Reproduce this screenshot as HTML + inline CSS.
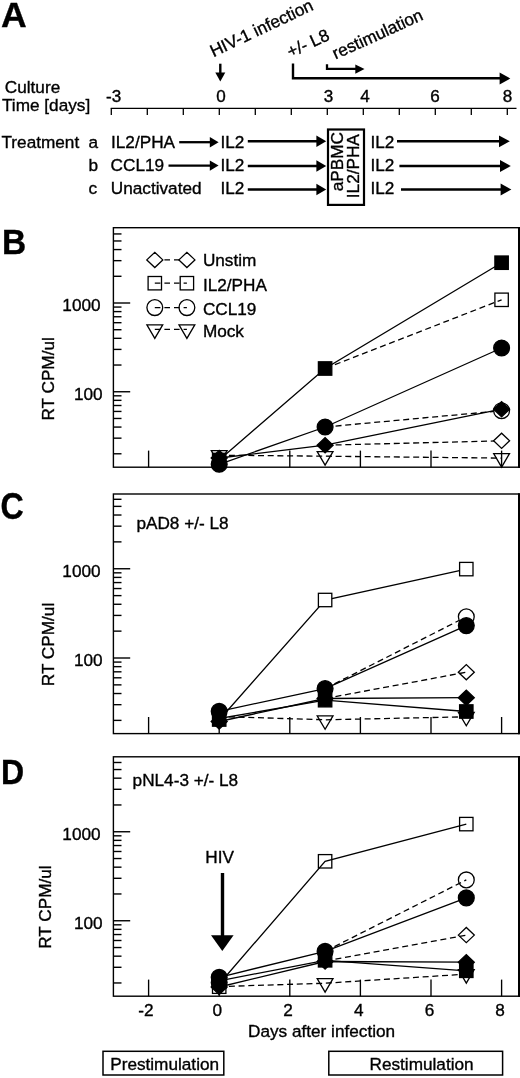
<!DOCTYPE html>
<html lang="en"><head><meta charset="utf-8"><title>Figure</title>
<style>html,body{margin:0;padding:0;background:#fff}svg{display:block}svg text{stroke:#000;stroke-width:0.35px;font-family:"Liberation Sans",Arial,Helvetica,sans-serif}</style></head>
<body>
<svg width="520" height="1078" viewBox="0 0 520 1078" fill="#000">
<rect width="520" height="1078" fill="#fff"/>
<text transform="translate(1.0,26.9) scale(1.0,1.0)" font-size="35.6" font-weight="bold">A</text>
<text transform="translate(2.0,254.2) scale(0.94,1.0)" font-size="35.6" font-weight="bold">B</text>
<text transform="translate(0.6,519.4) scale(0.905,1.03)" font-size="35.6" font-weight="bold">C</text>
<text transform="translate(1.0,783.8) scale(0.9,1.0)" font-size="35.6" font-weight="bold">D</text>
<text x="4.80" y="93.30" font-size="17.2" text-anchor="start">Culture</text>
<text x="2.00" y="110.80" font-size="17.2" text-anchor="start">Time [days]</text>
<line x1="110.70" y1="108.30" x2="516.50" y2="108.30" stroke="#000" stroke-width="1.3"/>
<line x1="111.30" y1="108.30" x2="111.30" y2="115.10" stroke="#000" stroke-width="1.3"/>
<line x1="147.30" y1="108.30" x2="147.30" y2="115.10" stroke="#000" stroke-width="1.3"/>
<line x1="183.30" y1="108.30" x2="183.30" y2="115.10" stroke="#000" stroke-width="1.3"/>
<line x1="219.30" y1="108.30" x2="219.30" y2="115.10" stroke="#000" stroke-width="1.3"/>
<line x1="255.30" y1="108.30" x2="255.30" y2="115.10" stroke="#000" stroke-width="1.3"/>
<line x1="291.30" y1="108.30" x2="291.30" y2="115.10" stroke="#000" stroke-width="1.3"/>
<line x1="327.30" y1="108.30" x2="327.30" y2="115.10" stroke="#000" stroke-width="1.3"/>
<line x1="363.30" y1="108.30" x2="363.30" y2="115.10" stroke="#000" stroke-width="1.3"/>
<line x1="399.30" y1="108.30" x2="399.30" y2="115.10" stroke="#000" stroke-width="1.3"/>
<line x1="435.30" y1="108.30" x2="435.30" y2="115.10" stroke="#000" stroke-width="1.3"/>
<line x1="471.30" y1="108.30" x2="471.30" y2="115.10" stroke="#000" stroke-width="1.3"/>
<line x1="507.30" y1="108.30" x2="507.30" y2="115.10" stroke="#000" stroke-width="1.3"/>
<text transform="translate(113.7,101.8) scale(1.08,1)" font-size="15.8" text-anchor="middle">-3</text>
<text transform="translate(221.0,101.8) scale(1.08,1)" font-size="15.8" text-anchor="middle">0</text>
<text transform="translate(328.6,101.8) scale(1.08,1)" font-size="15.8" text-anchor="middle">3</text>
<text transform="translate(365.0,101.8) scale(1.08,1)" font-size="15.8" text-anchor="middle">4</text>
<text transform="translate(435.0,101.8) scale(1.08,1)" font-size="15.8" text-anchor="middle">6</text>
<text transform="translate(507.6,101.8) scale(1.08,1)" font-size="15.8" text-anchor="middle">8</text>
<text transform="translate(213.4,57.2) rotate(-25.3)" font-size="17.2">HIV-1 infection</text>
<text transform="translate(290.3,57.8) rotate(-24.5)" font-size="17.2">+/- L8</text>
<text transform="translate(335.6,59.6) rotate(-24.5)" font-size="17.2">restimulation</text>
<line x1="220.30" y1="63.70" x2="220.30" y2="73.50" stroke="#000" stroke-width="2.4"/>
<polygon points="220.30,81.50 215.30,72.50 225.30,72.50" fill="#000"/>
<polyline points="293.00,63.50 293.00,78.20 500.00,78.20" fill="none" stroke="#000" stroke-width="2.4"/>
<polygon points="510.3,78.5 499.6,72.5 499.6,84.5" fill="#000"/>
<polyline points="327.00,64.20 327.00,68.90 356.00,68.90" fill="none" stroke="#000" stroke-width="2.3"/>
<polygon points="364.5,69 355.3,64.4 355.3,73.7" fill="#000"/>
<text x="1.50" y="147.60" font-size="17.2" text-anchor="start">Treatment</text>
<text x="88.50" y="147.60" font-size="17.2" text-anchor="start">a</text>
<text x="88.50" y="170.60" font-size="17.2" text-anchor="start">b</text>
<text x="88.50" y="193.50" font-size="17.2" text-anchor="start">c</text>
<text x="111.00" y="147.60" font-size="17.2" text-anchor="start">IL2/PHA</text>
<text x="110.60" y="170.60" font-size="17.2" text-anchor="start">CCL19</text>
<text x="110.80" y="193.50" font-size="17.2" text-anchor="start">Unactivated</text>
<text x="220.50" y="147.60" font-size="17.2" text-anchor="start">IL2</text>
<text x="220.50" y="170.60" font-size="17.2" text-anchor="start">IL2</text>
<text x="220.50" y="193.50" font-size="17.2" text-anchor="start">IL2</text>
<text x="370.40" y="147.60" font-size="17.2" text-anchor="start">IL2</text>
<text x="370.40" y="170.60" font-size="17.2" text-anchor="start">IL2</text>
<text x="370.40" y="193.50" font-size="17.2" text-anchor="start">IL2</text>
<line x1="179.20" y1="142.20" x2="210.80" y2="142.20" stroke="#000" stroke-width="2.3"/>
<polygon points="218.60,142.20 209.80,137.00 209.80,147.40" fill="#000"/>
<line x1="168.50" y1="165.60" x2="210.80" y2="165.60" stroke="#000" stroke-width="2.3"/>
<polygon points="218.60,165.60 209.80,160.40 209.80,170.80" fill="#000"/>
<line x1="247.80" y1="141.30" x2="317.40" y2="141.30" stroke="#000" stroke-width="2.4"/>
<polygon points="326.20,141.30 316.40,135.50 316.40,147.10" fill="#000"/>
<line x1="247.80" y1="166.00" x2="317.40" y2="166.00" stroke="#000" stroke-width="2.4"/>
<polygon points="326.20,166.00 316.40,160.20 316.40,171.80" fill="#000"/>
<line x1="247.80" y1="189.50" x2="317.40" y2="189.50" stroke="#000" stroke-width="2.4"/>
<polygon points="326.20,189.50 316.40,183.70 316.40,195.30" fill="#000"/>
<line x1="397.00" y1="141.30" x2="500.00" y2="141.30" stroke="#000" stroke-width="2.4"/>
<polygon points="509.80,141.30 499.00,135.40 499.00,147.20" fill="#000"/>
<line x1="399.40" y1="166.00" x2="501.00" y2="166.00" stroke="#000" stroke-width="2.4"/>
<polygon points="510.80,166.00 500.00,160.10 500.00,171.90" fill="#000"/>
<line x1="401.00" y1="189.50" x2="501.60" y2="189.50" stroke="#000" stroke-width="2.4"/>
<polygon points="511.40,189.50 500.60,183.60 500.60,195.40" fill="#000"/>
<rect x="328" y="129.5" width="36" height="75.4" fill="#fff" stroke="#000" stroke-width="2.2"/>
<text transform="translate(343.4,191.2) rotate(-90)" font-size="17.2">aPBMC</text>
<text transform="translate(359.2,198.2) rotate(-90)" font-size="17.2">IL2/PHA</text>
<rect x="113.4" y="227.7" width="405.6" height="239.5" fill="none" stroke="#000" stroke-width="1.4"/>
<line x1="519.00" y1="227.00" x2="519.00" y2="467.90" stroke="#000" stroke-width="2.0"/>
<line x1="113.40" y1="453.78" x2="121.50" y2="453.78" stroke="#000" stroke-width="1.4"/>
<line x1="113.40" y1="438.16" x2="121.50" y2="438.16" stroke="#000" stroke-width="1.4"/>
<line x1="113.40" y1="427.07" x2="121.50" y2="427.07" stroke="#000" stroke-width="1.4"/>
<line x1="113.40" y1="418.47" x2="121.50" y2="418.47" stroke="#000" stroke-width="1.4"/>
<line x1="113.40" y1="411.44" x2="121.50" y2="411.44" stroke="#000" stroke-width="1.4"/>
<line x1="113.40" y1="405.50" x2="121.50" y2="405.50" stroke="#000" stroke-width="1.4"/>
<line x1="113.40" y1="400.35" x2="121.50" y2="400.35" stroke="#000" stroke-width="1.4"/>
<line x1="113.40" y1="395.81" x2="121.50" y2="395.81" stroke="#000" stroke-width="1.4"/>
<line x1="113.40" y1="391.75" x2="130.20" y2="391.75" stroke="#000" stroke-width="1.4"/>
<line x1="113.40" y1="365.03" x2="121.50" y2="365.03" stroke="#000" stroke-width="1.4"/>
<line x1="113.40" y1="349.41" x2="121.50" y2="349.41" stroke="#000" stroke-width="1.4"/>
<line x1="113.40" y1="338.32" x2="121.50" y2="338.32" stroke="#000" stroke-width="1.4"/>
<line x1="113.40" y1="329.72" x2="121.50" y2="329.72" stroke="#000" stroke-width="1.4"/>
<line x1="113.40" y1="322.69" x2="121.50" y2="322.69" stroke="#000" stroke-width="1.4"/>
<line x1="113.40" y1="316.75" x2="121.50" y2="316.75" stroke="#000" stroke-width="1.4"/>
<line x1="113.40" y1="311.60" x2="121.50" y2="311.60" stroke="#000" stroke-width="1.4"/>
<line x1="113.40" y1="307.06" x2="121.50" y2="307.06" stroke="#000" stroke-width="1.4"/>
<line x1="113.40" y1="303.00" x2="130.20" y2="303.00" stroke="#000" stroke-width="1.4"/>
<line x1="113.40" y1="276.28" x2="121.50" y2="276.28" stroke="#000" stroke-width="1.4"/>
<line x1="113.40" y1="260.66" x2="121.50" y2="260.66" stroke="#000" stroke-width="1.4"/>
<line x1="113.40" y1="249.57" x2="121.50" y2="249.57" stroke="#000" stroke-width="1.4"/>
<line x1="113.40" y1="240.97" x2="121.50" y2="240.97" stroke="#000" stroke-width="1.4"/>
<line x1="113.40" y1="233.94" x2="121.50" y2="233.94" stroke="#000" stroke-width="1.4"/>
<line x1="148.60" y1="467.20" x2="148.60" y2="450.60" stroke="#000" stroke-width="1.35"/>
<line x1="219.20" y1="467.20" x2="219.20" y2="450.60" stroke="#000" stroke-width="1.35"/>
<line x1="289.80" y1="467.20" x2="289.80" y2="450.60" stroke="#000" stroke-width="1.35"/>
<line x1="360.40" y1="467.20" x2="360.40" y2="450.60" stroke="#000" stroke-width="1.35"/>
<line x1="431.00" y1="467.20" x2="431.00" y2="450.60" stroke="#000" stroke-width="1.35"/>
<line x1="501.60" y1="467.20" x2="501.60" y2="450.60" stroke="#000" stroke-width="1.35"/>
<text x="100.60" y="311.20" font-size="17.2" text-anchor="end">1000</text>
<text x="102.60" y="400.15" font-size="17.2" text-anchor="end">100</text>
<text transform="translate(53.7,420.6) rotate(-90)" font-size="17.2">RT CPM/ul</text>
<polyline points="219.20,455.20 325.10,456.20 501.60,458.10" fill="none" stroke="#000" stroke-width="1.3" stroke-dasharray="6 3.7" stroke-dashoffset="0"/>
<polyline points="219.20,460.00 325.10,368.50 501.60,262.70" fill="none" stroke="#000" stroke-width="1.3"/>
<polyline points="325.10,368.50 501.60,299.80" fill="none" stroke="#000" stroke-width="1.3" stroke-dasharray="6 3.7" stroke-dashoffset="-0.8"/>
<polyline points="219.20,464.30 325.10,427.00 501.60,348.00" fill="none" stroke="#000" stroke-width="1.3"/>
<polyline points="325.10,427.00 501.60,410.70" fill="none" stroke="#000" stroke-width="1.3" stroke-dasharray="6 3.7" stroke-dashoffset="-0.8"/>
<polyline points="219.20,458.00 325.10,445.20 501.60,409.20" fill="none" stroke="#000" stroke-width="1.3"/>
<polyline points="325.10,445.20 501.60,440.80" fill="none" stroke="#000" stroke-width="1.3" stroke-dasharray="6 3.7" stroke-dashoffset="-0.8"/>
<polygon points="211.30,450.70 227.10,450.70 219.20,464.20" fill="none" stroke="#000" stroke-width="1.3"/>
<polygon points="211.20,458.00 219.20,450.40 227.20,458.00 219.20,465.60" fill="#000" stroke="#000" stroke-width="1.3"/>
<rect x="212.50" y="453.30" width="13.40" height="13.40" fill="#000" stroke="#000" stroke-width="1.3"/>
<circle cx="219.20" cy="464.30" r="7.9" fill="#000" stroke="#000" stroke-width="1.3"/>
<polygon points="317.20,451.70 333.00,451.70 325.10,465.20" fill="none" stroke="#000" stroke-width="1.3"/>
<rect x="318.40" y="361.80" width="13.40" height="13.40" fill="#000" stroke="#000" stroke-width="1.3"/>
<circle cx="325.10" cy="427.00" r="7.9" fill="#000" stroke="#000" stroke-width="1.3"/>
<polygon points="317.10,445.20 325.10,437.60 333.10,445.20 325.10,452.80" fill="#000" stroke="#000" stroke-width="1.3"/>
<rect x="494.90" y="256.00" width="13.40" height="13.40" fill="#000" stroke="#000" stroke-width="1.3"/>
<rect x="494.90" y="293.10" width="13.40" height="13.40" fill="none" stroke="#000" stroke-width="1.3"/>
<circle cx="501.60" cy="348.00" r="7.9" fill="#000" stroke="#000" stroke-width="1.3"/>
<circle cx="501.60" cy="410.70" r="7.9" fill="#fff" stroke="#000" stroke-width="1.3"/>
<polygon points="493.60,409.20 501.60,401.60 509.60,409.20 501.60,416.80" fill="#000" stroke="#000" stroke-width="1.3"/>
<polygon points="493.60,440.80 501.60,433.20 509.60,440.80 501.60,448.40" fill="#fff" stroke="#000" stroke-width="1.3"/>
<polygon points="493.70,453.60 509.50,453.60 501.60,467.10" fill="none" stroke="#000" stroke-width="1.3"/>
<line x1="154.80" y1="259.90" x2="186.90" y2="259.90" stroke="#000" stroke-width="1.3" stroke-dasharray="5.6 4"/>
<polygon points="146.80,259.90 154.80,252.30 162.80,259.90 154.80,267.50" fill="#fff" stroke="#000" stroke-width="1.3"/>
<polygon points="178.90,259.90 186.90,252.30 194.90,259.90 186.90,267.50" fill="#fff" stroke="#000" stroke-width="1.3"/>
<line x1="154.80" y1="283.20" x2="186.90" y2="283.20" stroke="#000" stroke-width="1.3" stroke-dasharray="5.6 4"/>
<rect x="148.10" y="276.50" width="13.40" height="13.40" fill="none" stroke="#000" stroke-width="1.3"/>
<rect x="180.20" y="276.50" width="13.40" height="13.40" fill="none" stroke="#000" stroke-width="1.3"/>
<line x1="154.80" y1="307.60" x2="186.90" y2="307.60" stroke="#000" stroke-width="1.3" stroke-dasharray="5.6 4"/>
<circle cx="154.80" cy="307.60" r="7.9" fill="none" stroke="#000" stroke-width="1.3"/>
<circle cx="186.90" cy="307.60" r="7.9" fill="none" stroke="#000" stroke-width="1.3"/>
<line x1="154.80" y1="329.40" x2="186.90" y2="329.40" stroke="#000" stroke-width="1.3" stroke-dasharray="5.6 4"/>
<polygon points="146.90,324.90 162.70,324.90 154.80,338.40" fill="none" stroke="#000" stroke-width="1.3"/>
<polygon points="179.00,324.90 194.80,324.90 186.90,338.40" fill="none" stroke="#000" stroke-width="1.3"/>
<text x="202.90" y="265.80" font-size="17.2" text-anchor="start">Unstim</text>
<text x="202.90" y="290.60" font-size="17.2" text-anchor="start">IL2/PHA</text>
<text x="202.90" y="315.00" font-size="17.2" text-anchor="start">CCL19</text>
<text x="202.90" y="336.80" font-size="17.2" text-anchor="start">Mock</text>
<rect x="113.4" y="494.0" width="405.6" height="239.60000000000002" fill="none" stroke="#000" stroke-width="1.4"/>
<line x1="519.00" y1="493.30" x2="519.00" y2="734.30" stroke="#000" stroke-width="2.0"/>
<line x1="113.40" y1="720.38" x2="121.50" y2="720.38" stroke="#000" stroke-width="1.4"/>
<line x1="113.40" y1="704.67" x2="121.50" y2="704.67" stroke="#000" stroke-width="1.4"/>
<line x1="113.40" y1="693.52" x2="121.50" y2="693.52" stroke="#000" stroke-width="1.4"/>
<line x1="113.40" y1="684.87" x2="121.50" y2="684.87" stroke="#000" stroke-width="1.4"/>
<line x1="113.40" y1="677.80" x2="121.50" y2="677.80" stroke="#000" stroke-width="1.4"/>
<line x1="113.40" y1="671.82" x2="121.50" y2="671.82" stroke="#000" stroke-width="1.4"/>
<line x1="113.40" y1="666.65" x2="121.50" y2="666.65" stroke="#000" stroke-width="1.4"/>
<line x1="113.40" y1="662.08" x2="121.50" y2="662.08" stroke="#000" stroke-width="1.4"/>
<line x1="113.40" y1="658.00" x2="130.20" y2="658.00" stroke="#000" stroke-width="1.4"/>
<line x1="113.40" y1="631.13" x2="121.50" y2="631.13" stroke="#000" stroke-width="1.4"/>
<line x1="113.40" y1="615.42" x2="121.50" y2="615.42" stroke="#000" stroke-width="1.4"/>
<line x1="113.40" y1="604.27" x2="121.50" y2="604.27" stroke="#000" stroke-width="1.4"/>
<line x1="113.40" y1="595.62" x2="121.50" y2="595.62" stroke="#000" stroke-width="1.4"/>
<line x1="113.40" y1="588.55" x2="121.50" y2="588.55" stroke="#000" stroke-width="1.4"/>
<line x1="113.40" y1="582.57" x2="121.50" y2="582.57" stroke="#000" stroke-width="1.4"/>
<line x1="113.40" y1="577.40" x2="121.50" y2="577.40" stroke="#000" stroke-width="1.4"/>
<line x1="113.40" y1="572.83" x2="121.50" y2="572.83" stroke="#000" stroke-width="1.4"/>
<line x1="113.40" y1="568.75" x2="130.20" y2="568.75" stroke="#000" stroke-width="1.4"/>
<line x1="113.40" y1="541.88" x2="121.50" y2="541.88" stroke="#000" stroke-width="1.4"/>
<line x1="113.40" y1="526.17" x2="121.50" y2="526.17" stroke="#000" stroke-width="1.4"/>
<line x1="113.40" y1="515.02" x2="121.50" y2="515.02" stroke="#000" stroke-width="1.4"/>
<line x1="113.40" y1="506.37" x2="121.50" y2="506.37" stroke="#000" stroke-width="1.4"/>
<line x1="113.40" y1="499.30" x2="121.50" y2="499.30" stroke="#000" stroke-width="1.4"/>
<line x1="148.60" y1="733.60" x2="148.60" y2="717.00" stroke="#000" stroke-width="1.35"/>
<line x1="219.20" y1="733.60" x2="219.20" y2="717.00" stroke="#000" stroke-width="1.35"/>
<line x1="289.80" y1="733.60" x2="289.80" y2="717.00" stroke="#000" stroke-width="1.35"/>
<line x1="360.40" y1="733.60" x2="360.40" y2="717.00" stroke="#000" stroke-width="1.35"/>
<line x1="431.00" y1="733.60" x2="431.00" y2="717.00" stroke="#000" stroke-width="1.35"/>
<line x1="501.60" y1="733.60" x2="501.60" y2="717.00" stroke="#000" stroke-width="1.35"/>
<text x="100.60" y="576.95" font-size="17.2" text-anchor="end">1000</text>
<text x="102.60" y="666.40" font-size="17.2" text-anchor="end">100</text>
<text transform="translate(53.7,686.2) rotate(-90)" font-size="17.2">RT CPM/ul</text>
<polyline points="219.20,716.50 325.10,719.80 466.30,716.80" fill="none" stroke="#000" stroke-width="1.3" stroke-dasharray="6 3.7" stroke-dashoffset="0"/>
<polyline points="219.20,720.00 325.10,600.00 466.30,569.10" fill="none" stroke="#000" stroke-width="1.3"/>
<polyline points="219.20,711.30 325.10,688.60 466.30,625.60" fill="none" stroke="#000" stroke-width="1.3"/>
<polyline points="325.10,688.60 466.30,616.80" fill="none" stroke="#000" stroke-width="1.3" stroke-dasharray="6 3.7" stroke-dashoffset="-0.8"/>
<polyline points="325.10,698.50 466.30,672.20" fill="none" stroke="#000" stroke-width="1.3" stroke-dasharray="6 3.7" stroke-dashoffset="-0.8"/>
<polyline points="219.20,721.50 325.10,698.50 466.30,697.70" fill="none" stroke="#000" stroke-width="1.3"/>
<polyline points="219.20,718.50 325.10,700.20 466.30,711.50" fill="none" stroke="#000" stroke-width="1.3"/>
<circle cx="219.20" cy="711.30" r="7.9" fill="#000" stroke="#000" stroke-width="1.3"/>
<rect x="212.50" y="712.80" width="13.40" height="13.40" fill="#000" stroke="#000" stroke-width="1.3"/>
<polygon points="211.20,721.50 219.20,713.90 227.20,721.50 219.20,729.10" fill="#000" stroke="#000" stroke-width="1.3"/>
<rect x="318.40" y="593.30" width="13.40" height="13.40" fill="#fff" stroke="#000" stroke-width="1.3"/>
<polygon points="317.20,715.80 333.00,715.80 325.10,729.30" fill="none" stroke="#000" stroke-width="1.3"/>
<rect x="318.40" y="693.50" width="13.40" height="13.40" fill="#000" stroke="#000" stroke-width="1.3"/>
<polygon points="317.10,698.50 325.10,690.90 333.10,698.50 325.10,706.10" fill="#000" stroke="#000" stroke-width="1.3"/>
<circle cx="325.10" cy="688.60" r="7.9" fill="#000" stroke="#000" stroke-width="1.3"/>
<rect x="459.60" y="562.40" width="13.40" height="13.40" fill="#fff" stroke="#000" stroke-width="1.3"/>
<circle cx="466.30" cy="616.80" r="7.9" fill="#fff" stroke="#000" stroke-width="1.3"/>
<circle cx="466.30" cy="625.60" r="7.9" fill="#000" stroke="#000" stroke-width="1.3"/>
<polygon points="458.30,672.20 466.30,664.60 474.30,672.20 466.30,679.80" fill="none" stroke="#000" stroke-width="1.3"/>
<polygon points="458.40,712.30 474.20,712.30 466.30,725.80" fill="none" stroke="#000" stroke-width="1.3"/>
<polygon points="458.30,697.70 466.30,690.10 474.30,697.70 466.30,705.30" fill="#000" stroke="#000" stroke-width="1.3"/>
<rect x="459.60" y="704.80" width="13.40" height="13.40" fill="#000" stroke="#000" stroke-width="1.3"/>
<text x="136.40" y="528.80" font-size="17.2" text-anchor="start">pAD8 +/- L8</text>
<rect x="113.4" y="756.8" width="405.6" height="239.4000000000001" fill="none" stroke="#000" stroke-width="1.4"/>
<line x1="519.00" y1="756.10" x2="519.00" y2="996.90" stroke="#000" stroke-width="2.0"/>
<line x1="113.40" y1="982.96" x2="121.50" y2="982.96" stroke="#000" stroke-width="1.4"/>
<line x1="113.40" y1="967.29" x2="121.50" y2="967.29" stroke="#000" stroke-width="1.4"/>
<line x1="113.40" y1="956.17" x2="121.50" y2="956.17" stroke="#000" stroke-width="1.4"/>
<line x1="113.40" y1="947.54" x2="121.50" y2="947.54" stroke="#000" stroke-width="1.4"/>
<line x1="113.40" y1="940.49" x2="121.50" y2="940.49" stroke="#000" stroke-width="1.4"/>
<line x1="113.40" y1="934.54" x2="121.50" y2="934.54" stroke="#000" stroke-width="1.4"/>
<line x1="113.40" y1="929.37" x2="121.50" y2="929.37" stroke="#000" stroke-width="1.4"/>
<line x1="113.40" y1="924.82" x2="121.50" y2="924.82" stroke="#000" stroke-width="1.4"/>
<line x1="113.40" y1="920.75" x2="130.20" y2="920.75" stroke="#000" stroke-width="1.4"/>
<line x1="113.40" y1="893.96" x2="121.50" y2="893.96" stroke="#000" stroke-width="1.4"/>
<line x1="113.40" y1="878.29" x2="121.50" y2="878.29" stroke="#000" stroke-width="1.4"/>
<line x1="113.40" y1="867.17" x2="121.50" y2="867.17" stroke="#000" stroke-width="1.4"/>
<line x1="113.40" y1="858.54" x2="121.50" y2="858.54" stroke="#000" stroke-width="1.4"/>
<line x1="113.40" y1="851.49" x2="121.50" y2="851.49" stroke="#000" stroke-width="1.4"/>
<line x1="113.40" y1="845.54" x2="121.50" y2="845.54" stroke="#000" stroke-width="1.4"/>
<line x1="113.40" y1="840.37" x2="121.50" y2="840.37" stroke="#000" stroke-width="1.4"/>
<line x1="113.40" y1="835.82" x2="121.50" y2="835.82" stroke="#000" stroke-width="1.4"/>
<line x1="113.40" y1="831.75" x2="130.20" y2="831.75" stroke="#000" stroke-width="1.4"/>
<line x1="113.40" y1="804.96" x2="121.50" y2="804.96" stroke="#000" stroke-width="1.4"/>
<line x1="113.40" y1="789.29" x2="121.50" y2="789.29" stroke="#000" stroke-width="1.4"/>
<line x1="113.40" y1="778.17" x2="121.50" y2="778.17" stroke="#000" stroke-width="1.4"/>
<line x1="113.40" y1="769.54" x2="121.50" y2="769.54" stroke="#000" stroke-width="1.4"/>
<line x1="113.40" y1="762.49" x2="121.50" y2="762.49" stroke="#000" stroke-width="1.4"/>
<line x1="148.60" y1="996.20" x2="148.60" y2="979.60" stroke="#000" stroke-width="1.35"/>
<line x1="219.20" y1="996.20" x2="219.20" y2="979.60" stroke="#000" stroke-width="1.35"/>
<line x1="289.80" y1="996.20" x2="289.80" y2="979.60" stroke="#000" stroke-width="1.35"/>
<line x1="360.40" y1="996.20" x2="360.40" y2="979.60" stroke="#000" stroke-width="1.35"/>
<line x1="431.00" y1="996.20" x2="431.00" y2="979.60" stroke="#000" stroke-width="1.35"/>
<line x1="501.60" y1="996.20" x2="501.60" y2="979.60" stroke="#000" stroke-width="1.35"/>
<text x="100.60" y="839.95" font-size="17.2" text-anchor="end">1000</text>
<text x="102.60" y="929.15" font-size="17.2" text-anchor="end">100</text>
<text transform="translate(51.3,948.8) rotate(-90)" font-size="17.2">RT CPM/ul</text>
<polyline points="219.20,986.60 325.10,983.20 466.30,974.10" fill="none" stroke="#000" stroke-width="1.3" stroke-dasharray="6 3.7" stroke-dashoffset="0"/>
<polyline points="219.20,984.00 325.10,861.30 466.30,824.10" fill="none" stroke="#000" stroke-width="1.3"/>
<polyline points="219.20,977.30 325.10,951.30 466.30,897.90" fill="none" stroke="#000" stroke-width="1.3"/>
<polyline points="325.10,951.30 466.30,879.90" fill="none" stroke="#000" stroke-width="1.3" stroke-dasharray="6 3.7" stroke-dashoffset="-0.8"/>
<polyline points="325.10,961.00 466.30,935.10" fill="none" stroke="#000" stroke-width="1.3" stroke-dasharray="6 3.7" stroke-dashoffset="-0.8"/>
<polyline points="219.20,987.00 325.10,961.50 466.30,962.20" fill="none" stroke="#000" stroke-width="1.3"/>
<polyline points="219.20,980.80 325.10,960.30 466.30,970.80" fill="none" stroke="#000" stroke-width="1.3"/>
<rect x="212.50" y="980.00" width="13.40" height="13.40" fill="none" stroke="#000" stroke-width="1.3"/>
<circle cx="219.20" cy="977.30" r="7.9" fill="#000" stroke="#000" stroke-width="1.3"/>
<rect x="212.50" y="974.80" width="13.40" height="13.40" fill="#000" stroke="#000" stroke-width="1.3"/>
<circle cx="219.20" cy="982.50" r="7.9" fill="#000" stroke="#000" stroke-width="1.3"/>
<polygon points="211.20,987.00 219.20,979.40 227.20,987.00 219.20,994.60" fill="#000" stroke="#000" stroke-width="1.3"/>
<rect x="318.40" y="854.60" width="13.40" height="13.40" fill="none" stroke="#000" stroke-width="1.3"/>
<polygon points="317.20,978.70 333.00,978.70 325.10,992.20" fill="none" stroke="#000" stroke-width="1.3"/>
<circle cx="325.10" cy="951.30" r="7.9" fill="#000" stroke="#000" stroke-width="1.3"/>
<rect x="318.40" y="953.60" width="13.40" height="13.40" fill="#000" stroke="#000" stroke-width="1.3"/>
<polygon points="317.10,961.50 325.10,953.90 333.10,961.50 325.10,969.10" fill="#000" stroke="#000" stroke-width="1.3"/>
<rect x="459.60" y="817.40" width="13.40" height="13.40" fill="none" stroke="#000" stroke-width="1.3"/>
<circle cx="466.30" cy="879.90" r="7.9" fill="none" stroke="#000" stroke-width="1.3"/>
<circle cx="466.30" cy="897.90" r="7.9" fill="#000" stroke="#000" stroke-width="1.3"/>
<polygon points="458.30,935.10 466.30,927.50 474.30,935.10 466.30,942.70" fill="none" stroke="#000" stroke-width="1.3"/>
<polygon points="458.40,969.60 474.20,969.60 466.30,983.10" fill="none" stroke="#000" stroke-width="1.3"/>
<polygon points="458.30,962.20 466.30,954.60 474.30,962.20 466.30,969.80" fill="#000" stroke="#000" stroke-width="1.3"/>
<rect x="459.60" y="964.10" width="13.40" height="13.40" fill="#000" stroke="#000" stroke-width="1.3"/>
<text x="132.60" y="785.80" font-size="17.2" text-anchor="start">pNL4-3 +/- L8</text>
<text x="219.70" y="862.80" font-size="17.2" text-anchor="middle">HIV</text>
<line x1="222.50" y1="873.00" x2="222.50" y2="936.00" stroke="#000" stroke-width="3.4"/>
<polygon points="222.3,951 211,935.2 233.6,935.2" fill="#000"/>
<text x="146.00" y="1015.80" font-size="17.2" text-anchor="middle">-2</text>
<text x="217.20" y="1015.80" font-size="17.2" text-anchor="middle">0</text>
<text x="288.10" y="1015.80" font-size="17.2" text-anchor="middle">2</text>
<text x="358.70" y="1015.80" font-size="17.2" text-anchor="middle">4</text>
<text x="429.50" y="1015.80" font-size="17.2" text-anchor="middle">6</text>
<text x="500.10" y="1015.80" font-size="17.2" text-anchor="middle">8</text>
<text x="248.00" y="1037.00" font-size="17.2" text-anchor="start">Days after infection</text>
<rect x="103" y="1051.3" width="120.8" height="23.7" fill="#fff" stroke="#000" stroke-width="1.5"/>
<rect x="328.8" y="1051.3" width="173.8" height="23.7" fill="#fff" stroke="#000" stroke-width="1.5"/>
<text x="110.20" y="1069.50" font-size="17.2" text-anchor="start">Prestimulation</text>
<text x="369.50" y="1069.50" font-size="17.2" text-anchor="start">Restimulation</text>
</svg>
</body></html>
